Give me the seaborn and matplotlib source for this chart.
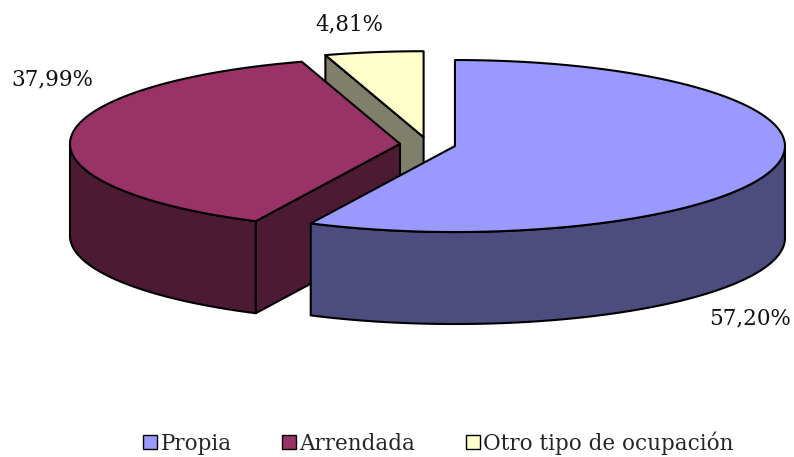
import numpy as np
import matplotlib
matplotlib.use("Agg")
import matplotlib.pyplot as plt
from matplotlib.patches import Polygon
from matplotlib.lines import Line2D
import seaborn as sns

# data
categories = ["Propia", "Arrendada", "Otro tipo de ocupación"]
values = [57.20, 37.99, 4.81]
value_labels = ["57,20%", "37,99%", "4,81%"]

# style
top_colors = ["#9999FF", "#993366", "#FFFFCC"]
side_colors = ["#4C4C7F", "#4D1A33", "#80806A"]

sns.set_theme(style="white")
plt.rcParams["font.family"] = ["DejaVu Serif"]

# pie geometry in pixel coordinates
cx, cy = 427.8, 144.4
rx, ry = 330, 86
depth = 92
explode = 0.0845
label_xy = [(750, 318), (52, 79), (349, 24)]

fig = plt.figure(figsize=(7.94, 4.57), dpi=100)
ax = fig.add_axes([0, 0, 1, 1])
ax.set_xlim(0, 794)
ax.set_ylim(457, 0)
ax.axis("off")

fracs = np.array(values) / np.sum(values)
cum = np.concatenate([[0], np.cumsum(fracs)])
theta1 = 90 - cum[:-1] * 360
theta2 = 90 - cum[1:] * 360


def pt(c, t, dz=0):
    r = np.radians(t)
    return np.column_stack([c[0] + rx * np.cos(r), c[1] - ry * np.sin(r) + dz])


def arc(c, a, b, dz=0, n=200):
    return pt(c, np.linspace(a, b, n), dz)


centers = []
for i in range(len(values)):
    mid = np.radians((theta1[i] + theta2[i]) / 2)
    centers.append((cx + explode * rx * np.cos(mid), cy - explode * ry * np.sin(mid)))

edge = dict(edgecolor="black", linewidth=1.5, joinstyle="round")
order = np.argsort([c[1] for c in centers])
for i in order:
    c = centers[i]
    t1, t2 = theta1[i], theta2[i]
    # radial faces facing the viewer
    for a, nrm in [(t1, t1 + 90), (t2, t2 - 90)]:
        if np.sin(np.radians(nrm)) < -1e-6:
            e = pt(c, [a])[0]
            quad = [c, e, (e[0], e[1] + depth), (c[0], c[1] + depth)]
            ax.add_patch(Polygon(quad, closed=True, facecolor=side_colors[i], **edge))
    # outer wall, front half only
    for k in range(-2, 2):
        lo, hi = max(t2, -180 + 360 * k), min(t1, 360 * k)
        if hi > lo:
            top = arc(c, lo, hi)
            bot = arc(c, hi, lo, depth)
            ax.add_patch(Polygon(np.vstack([top, bot]), closed=True,
                                 facecolor=side_colors[i], **edge))
    # top face
    face = np.vstack([[c], arc(c, t1, t2)])
    ax.add_patch(Polygon(face, closed=True, facecolor=top_colors[i], **edge))

for (x, y), s in zip(label_xy, value_labels):
    ax.text(x, y, s, ha="center", va="center", fontsize=15.5, color="#111111")

handles = [Line2D([], [], marker="s", linestyle="none", markersize=9.5,
                  markerfacecolor=col, markeredgecolor="black", markeredgewidth=1.0)
           for col in top_colors]
fig.legend(handles, categories, loc="center", bbox_to_anchor=(437 / 794, 1 - 443 / 457),
           ncol=3, frameon=False, handletextpad=0.05, columnspacing=2.2,
           handlelength=0.9, prop={"size": 15.5})

fig.savefig("out.png", dpi=100, facecolor="white")
